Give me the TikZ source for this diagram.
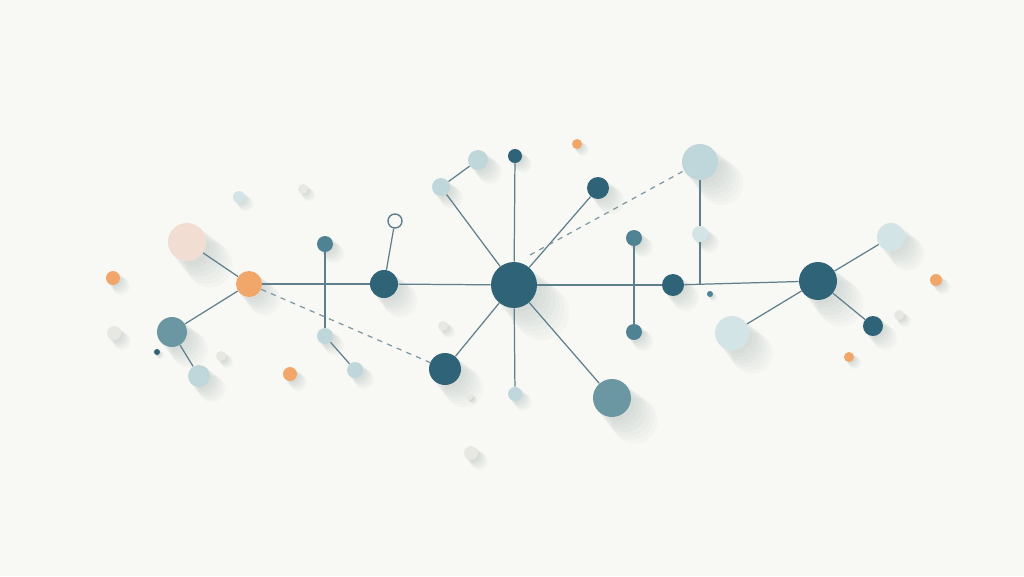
\documentclass[tikz,border=0pt]{standalone}
\usetikzlibrary{calc}
\definecolor{bg}{HTML}{F8F8F4}
\definecolor{ln}{HTML}{5F7F8C}
\definecolor{dk}{HTML}{2F6478}
\definecolor{tm}{HTML}{6B97A3}
\definecolor{ts}{HTML}{4F8394}
\definecolor{lt}{HTML}{BFD7DB}
\definecolor{lr}{HTML}{D2E4E6}
\definecolor{pk}{HTML}{F1DDD2}
\definecolor{og}{HTML}{F2A76A}
\definecolor{wh}{HTML}{E8E8E3}
\definecolor{sh}{HTML}{3A4E58}
\pgfdeclarelayer{bgl}
\pgfdeclarelayer{shad}
\pgfdeclarelayer{edges}
\pgfsetlayers{bgl,shad,edges,main}
\tikzset{
  ball/.style={circle, inner sep=0pt, minimum size=#1*0.4mm},
  link/.style={draw=ln, line width=0.7pt},
  dlink/.style={draw=ln!80, line width=0.7pt, dash pattern=on 3pt off 3pt},
  shadowdisc/.style={fill=sh, opacity=0.022},
}
\begin{document}
\begin{tikzpicture}[x=0.2mm,y=-0.2mm]
\begin{pgfonlayer}{bgl}
\fill[bg] (0,0) rectangle (1024,576);
\end{pgfonlayer}
\useasboundingbox (0,0) rectangle (1024,576);
% nodes
\node[ball=19, fill=pk] (pink) at (187,242) {};
\node[ball=7, fill=og] (oL) at (113,278) {};
\node[ball=13, fill=og] (hub) at (249,284) {};
\node[ball=15, fill=tm] (tL) at (172,332) {};
\node[ball=11, fill=lt] (lL) at (199,376) {};
\node[ball=3, fill=dk] (dd1) at (157,352) {};
\node[ball=7, fill=wh] (w1) at (114,333) {};
\node[ball=5, fill=wh] (w2) at (221,356) {};
\node[ball=7, fill=og] (o2) at (290,374) {};
\node[ball=6, fill=lr] (g1) at (239,197) {};
\node[ball=5, fill=wh] (w3) at (303,189) {};
\node[ball=8, fill=ts] (s1) at (325,244) {};
\node[ball=8, fill=lt] (s2) at (325,336) {};
\node[ball=8, fill=lt] (s3) at (355,370) {};
\node[ball=14, fill=dk] (d1) at (384,284) {};
\node[circle, inner sep=0pt, minimum size=14*0.2mm, draw=ln, line width=0.8pt, fill=bg] (open) at (395,221) {};
\node[ball=5, fill=wh] (w4) at (443,326) {};
\node[ball=16, fill=dk] (d2) at (445,369) {};
\node[ball=9, fill=lt] (l1) at (441,187) {};
\node[ball=10, fill=lt] (l2) at (478,160) {};
\node[ball=7, fill=dk] (d3) at (515,156) {};
\node[ball=23, fill=dk] (C) at (514,285) {};
\node[ball=7, fill=lt] (l3) at (515,394) {};
\node[ball=3, fill=wh] (w5) at (470,397) {};
\node[ball=11, fill=dk] (d4) at (598,188) {};
\node[ball=5, fill=og] (o3) at (577,144) {};
\node[ball=19, fill=tm] (T) at (612,398) {};
\node[ball=8, fill=ts] (s4) at (634,238) {};
\node[ball=8, fill=ts] (s5) at (634,332) {};
\node[ball=11, fill=dk] (d5) at (673,285) {};
\node[ball=3, fill=ts] (dd2) at (710,294) {};
\node[ball=18, fill=lt] (L1) at (700,162) {};
\node[ball=8, fill=lr] (l4) at (700,234) {};
\node[ball=19, fill=dk] (R) at (818,281) {};
\node[ball=14, fill=lr] (L2) at (891,237) {};
\node[ball=10, fill=dk] (d6) at (873,326) {};
\node[ball=17, fill=lr] (L3) at (732,333) {};
\node[ball=6, fill=og] (o4) at (936,280) {};
\node[ball=5, fill=wh] (w6) at (899,315) {};
\node[ball=5, fill=og] (o5) at (849,357) {};
\node[ball=7, fill=wh] (w7) at (471,453) {};
\coordinate (j) at (700,285);
\coordinate (ds) at (530,255);
% soft shadows
\begin{pgfonlayer}{shad}
\foreach \n/\r in {pink/19,oL/7,hub/13,tL/15,lL/11,dd1/3,w1/7,w2/5,o2/7,g1/6,w3/5,s1/8,s2/8,s3/8,d1/14,w4/5,d2/16,l1/9,l2/10,d3/7,C/23,l3/7,w5/3,d4/11,o3/5,T/19,s4/8,s5/8,d5/11,dd2/3,L1/18,l4/8,R/19,L2/14,d6/10,L3/17,o4/6,w6/5,o5/5,w7/7}{
  \foreach \k in {1,...,7}{
    \fill[shadowdisc] ($(\n)+(\k*0.17*\r,\k*0.17*\r)$) circle ({\r*(1+0.03*\k)*0.2mm});
  }
}
\end{pgfonlayer}
% connectors
\begin{pgfonlayer}{edges}
\draw[link] (pink) -- (hub);
\draw[link] (hub) -- (tL);
\draw[link] (tL) -- (lL);
\draw[link] (hub) -- (d1);
\draw[link] (d1) -- (C);
\draw[link] (C) -- (d5);
\draw[link] (d5) -- (R);
\draw[link] (s1) -- (s2);
\draw[link] (s2) -- (s3);
\draw[link] (d1) -- (open);
\draw[link] (C) -- (l1);
\draw[link] (l1) -- (l2);
\draw[link] (C) -- (d3);
\draw[link] (C) -- (d4);
\draw[link] (C) -- (d2);
\draw[link] (C) -- (l3);
\draw[link] (C) -- (T);
\draw[link] (s4) -- (s5);
\draw[link] (L1) -- (l4);
\draw[link] (l4) -- (j);
\draw[link] (R) -- (L2);
\draw[link] (R) -- (d6);
\draw[link] (R) -- (L3);
\draw[dlink] (hub) -- (d2);
\draw[dlink] (ds) -- (L1);
\end{pgfonlayer}
\end{tikzpicture}
\end{document}
